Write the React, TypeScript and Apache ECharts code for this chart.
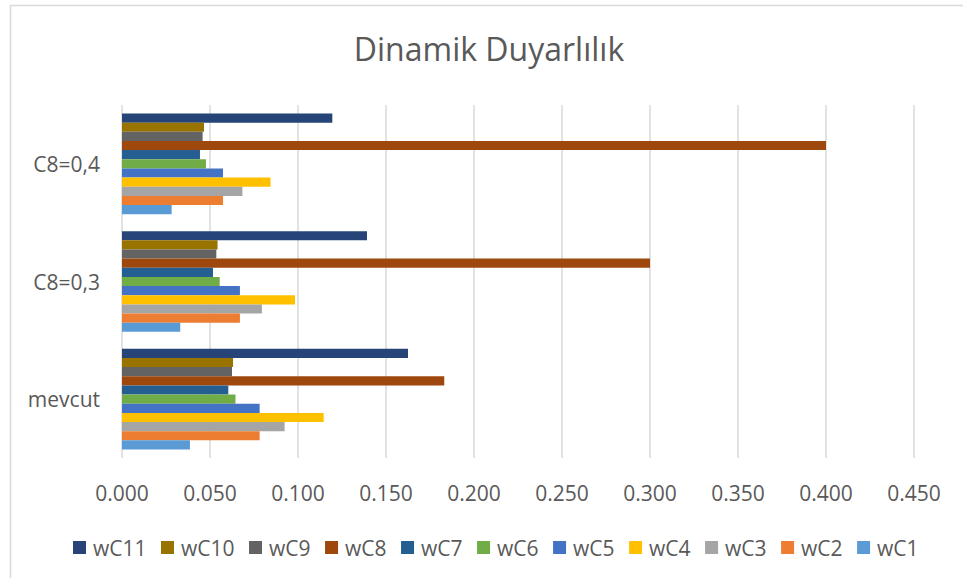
import React, { useEffect, useRef } from "react";
import * as echarts from "echarts";

const categories = ["mevcut", "C8=0,3", "C8=0,4"];
const seriesNames = ["wC11", "wC10", "wC9", "wC8", "wC7", "wC6", "wC5", "wC4", "wC3", "wC2", "wC1"];
const colors = ["#264478", "#997300", "#636363", "#9E480E", "#255E91", "#70AD47", "#4472C4", "#FFC000", "#A5A5A5", "#ED7D31", "#5B9BD5"];
// values per series: [mevcut, C8=0,3, C8=0,4]
const wC11 = [0.1625, 0.1392, 0.1195];
const wC10 = [0.0631, 0.0543, 0.0466];
const wC9 = [0.0625, 0.0536, 0.0458];
const wC8 = [0.1831, 0.3, 0.4];
const wC7 = [0.0604, 0.0517, 0.0443];
const wC6 = [0.0645, 0.0555, 0.0477];
const wC5 = [0.0782, 0.067, 0.0574];
const wC4 = [0.1146, 0.0983, 0.0844];
const wC3 = [0.0924, 0.0795, 0.0684];
const wC2 = [0.0782, 0.067, 0.0574];
const wC1 = [0.0386, 0.0331, 0.0282];
const values = [wC11, wC10, wC9, wC8, wC7, wC6, wC5, wC4, wC3, wC2, wC1];
const xTicks = { min: 0, max: 0.45, interval: 0.05 };

const FONT = "'Open Sans', sans-serif";

export default function App() {
  const ref = useRef<HTMLDivElement>(null);
  useEffect(() => {
    if (!ref.current) return;
    const chart = echarts.init(ref.current, undefined, { renderer: "svg" });
    chart.setOption({
      animation: false,
      backgroundColor: "#ffffff",
      title: {
        text: "Dinamik Duyarlılık",
        left: 484,
        top: 27,
        textAlign: "center",
        textStyle: { fontFamily: FONT, fontSize: 32, fontWeight: "normal", color: "#595959" },
      },
      graphic: [
        {
          type: "rect",
          shape: { x: 10.5, y: 5.5, width: 960, height: 600 },
          style: { fill: "none", stroke: "#d9d9d9", lineWidth: 1.5 },
          silent: true,
        },
      ],
      legend: {
        data: seriesNames,
        left: 68,
        top: 532,
        itemWidth: 13,
        itemHeight: 13,
        itemGap: 14.5,
        icon: "rect",
        textStyle: { fontFamily: FONT, fontSize: 21, color: "#595959", padding: [0, 0, 0, 2] },
      },
      grid: { left: 122, right: 49, top: 105, bottom: 120, containLabel: false },
      xAxis: {
        type: "value",
        min: xTicks.min,
        max: xTicks.max,
        interval: xTicks.interval,
        axisLine: { show: false },
        axisTick: { show: false },
        splitLine: { lineStyle: { color: "#d9d9d9", width: 1.5 } },
        axisLabel: {
          fontFamily: FONT,
          fontSize: 21,
          color: "#595959",
          margin: 24,
          formatter: (v: number) => v.toFixed(3),
        },
      },
      yAxis: {
        type: "category",
        data: categories,
        axisLine: { show: false },
        axisTick: { show: false },
        axisLabel: { fontFamily: FONT, fontSize: 21, color: "#595959", margin: 22 },
      },
      series: seriesNames.map((name, i) => ({
        name,
        type: "bar",
        data: values[i],
        barGap: "0%",
        barCategoryGap: "14.4%",
        itemStyle: { color: colors[i] },
      })),
    });
    return () => chart.dispose();
  }, []);
  return <div ref={ref} style={{ position: "absolute", left: 0, top: 0, width: 963, height: 578 }} />;
}
